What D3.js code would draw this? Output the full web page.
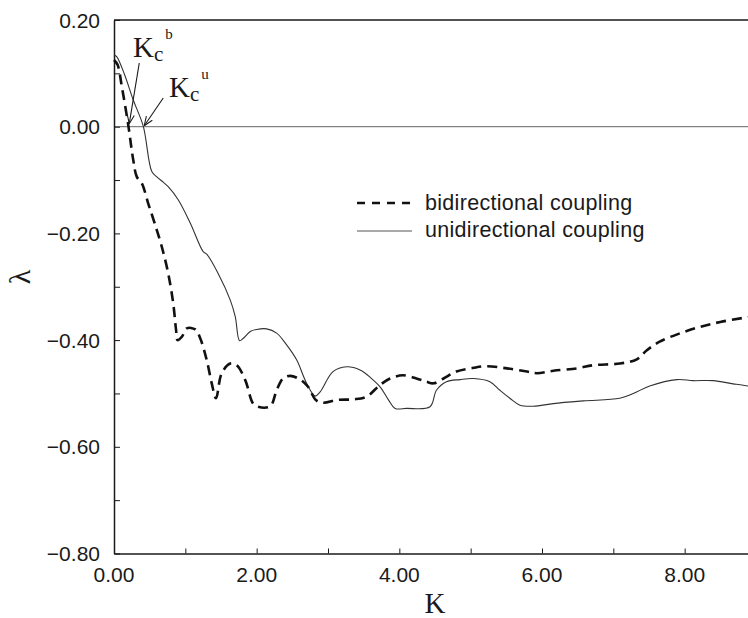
<!DOCTYPE html>
<html>
<head>
<meta charset="utf-8">
<script src="https://cdn.jsdelivr.net/npm/d3@7"></script>
<style>
    body { margin: 0; background: #fff; }
    svg { display: block; }
    .tick text { font-family: "Liberation Sans", Arial, sans-serif; font-size: 21px; fill: #1a1a1a; }
    .axis path, .axis line { stroke: #1a1a1a; }
</style>
</head>
<body>
<svg id="chart" width="748" height="618"></svg>
<script>
// values
var kBi = [0, 0.05, 0.11, 0.20, 0.27, 0.32, 0.39, 0.48, 0.57, 0.67, 0.76, 0.83, 0.87, 0.89, 0.95, 1.02,
    1.14, 1.21, 1.30, 1.37, 1.43, 1.51, 1.63, 1.72, 1.84, 1.95, 2.02, 2.19, 2.28, 2.37, 2.47, 2.61,
    2.72, 2.83, 2.93, 3.14, 3.36, 3.54, 3.73, 3.87, 4.05, 4.24, 4.38, 4.48, 4.62, 4.80, 5.04, 5.22,
    5.51, 5.79, 5.93, 6.16, 6.49, 6.72, 7.09, 7.33, 7.47, 7.65, 7.93, 8.22, 8.50, 8.89, 9.0];
var lamBi = [0.125, 0.116, 0.075, 0.003, -0.0625, -0.094, -0.106, -0.144, -0.181, -0.225, -0.275, -0.331, -0.381, -0.400, -0.394, -0.378,
    -0.380, -0.397, -0.4375, -0.481, -0.509, -0.462, -0.444, -0.447, -0.475, -0.519, -0.525, -0.524, -0.494, -0.472, -0.467, -0.474,
    -0.4875, -0.5125, -0.5175, -0.512, -0.511, -0.506, -0.484, -0.472, -0.466, -0.472, -0.478, -0.481, -0.472, -0.459, -0.452, -0.449,
    -0.453, -0.459, -0.462, -0.4575, -0.453, -0.447, -0.444, -0.436, -0.419, -0.403, -0.3875, -0.375, -0.366, -0.357, -0.355];

var kUni = [0, 0.04, 0.15, 0.27, 0.41, 0.53, 0.60, 0.69, 0.76, 0.90, 1.07, 1.25, 1.30, 1.46, 1.63, 1.70,
    1.76, 1.81, 1.91, 2.00, 2.14, 2.28, 2.42, 2.56, 2.70, 2.82, 2.89, 3.07, 3.26, 3.45, 3.61, 3.73,
    3.85, 3.94, 4.10, 4.43, 4.52, 4.66, 4.85, 5.04, 5.27, 5.41, 5.55, 5.69, 5.88, 6.16, 6.58, 7.09,
    7.28, 7.51, 7.89, 8.12, 8.40, 8.68, 8.89, 9.0];
var lamUni = [0.135, 0.131, 0.097, 0.05, 0.001, -0.084, -0.094, -0.104, -0.1125, -0.137, -0.181, -0.234, -0.239, -0.275, -0.325, -0.356,
    -0.401, -0.397, -0.384, -0.380, -0.379, -0.387, -0.409, -0.437, -0.481, -0.505, -0.497, -0.459, -0.450, -0.456, -0.472, -0.4875,
    -0.5125, -0.528, -0.528, -0.525, -0.494, -0.478, -0.474, -0.472, -0.478, -0.494, -0.509, -0.522, -0.524, -0.519, -0.514, -0.509,
    -0.500, -0.486, -0.474, -0.476, -0.476, -0.482, -0.486, -0.487];

var xTicks = [0, 1, 2, 3, 4, 5, 6, 7, 8, 9];
var xLabels = [0, 2, 4, 6, 8];
var yTicks = [0.2, 0.1, 0, -0.1, -0.2, -0.3, -0.4, -0.5, -0.6, -0.7, -0.8];
var yLabels = [0.2, 0, -0.2, -0.4, -0.6, -0.8];

var seriesNames = ['bidirectional coupling', 'unidirectional coupling'];
var kcB = 0.20, kcU = 0.41;

var margin = {top: 20, left: 114, bottom: 64.5, right: -8};
var width = 748, height = 618;

var svg = d3.select('svg#chart');

var x = d3.scaleLinear().domain([0, 9]).range([margin.left, width - margin.right]);
var y = d3.scaleLinear().domain([-0.8, 0.2]).range([height - margin.bottom, margin.top]);

var fmt = d3.format('.2f');

/**
 * zip two arrays into points
 */
function pts(ks, ls) {
    return ks.map(function(k, i) { return [k, ls[i]]; });
}

var line = d3.line()
    .x(function(d) { return x(d[0]); })
    .y(function(d) { return y(d[1]); })
    .curve(d3.curveCatmullRom.alpha(0.5));

// zero line
svg.append('line')
    .attr('x1', x(0)).attr('x2', x(9))
    .attr('y1', y(0)).attr('y2', y(0))
    .attr('stroke', '#666').attr('stroke-width', 1);

// frame top / right
svg.append('path')
    .attr('d', 'M' + x(0) + ',' + y(0.2) + 'H' + x(9) + 'V' + y(-0.8))
    .attr('fill', 'none').attr('stroke', '#1a1a1a').attr('stroke-width', 1.5);

// left axis, ticks inward
svg.append('g')
    .attr('class', 'axis')
    .attr('transform', 'translate(' + x(0) + ',0)')
    .call(d3.axisLeft(y).tickValues(yTicks).tickSizeInner(-6).tickSizeOuter(0).tickPadding(0).tickFormat(''))
    .call(function(g) {
        g.select('.domain').attr('stroke-width', 1.5);
        g.selectAll('.tick line').attr('stroke-width', 1);
    });

svg.append('g')
    .selectAll('text')
    .data(yLabels)
    .enter().append('text')
        .attr('class', 'tick')
        .attr('x', 100)
        .attr('y', function(d) { return y(d) + 7.5; })
        .attr('text-anchor', 'end')
        .style('font-family', '"Liberation Sans", Arial, sans-serif')
        .style('font-size', '21px')
        .style('fill', '#1a1a1a')
        .text(function(d) { return fmt(d); });

// bottom axis, ticks inward
svg.append('g')
    .attr('class', 'axis')
    .attr('transform', 'translate(0,' + y(-0.8) + ')')
    .call(d3.axisBottom(x).tickValues(xTicks).tickSizeInner(-5).tickSizeOuter(0).tickFormat(''))
    .call(function(g) {
        g.select('.domain').attr('stroke-width', 1.5);
        g.selectAll('.tick line').attr('stroke-width', 1);
    });

svg.append('g')
    .selectAll('text')
    .data(xLabels)
    .enter().append('text')
        .attr('x', function(d) { return x(d); })
        .attr('y', 582)
        .attr('text-anchor', 'middle')
        .style('font-family', '"Liberation Sans", Arial, sans-serif')
        .style('font-size', '21px')
        .style('fill', '#1a1a1a')
        .text(function(d) { return fmt(d); });

// axis titles
svg.append('text')
    .attr('x', x(4.5)).attr('y', 613)
    .attr('text-anchor', 'middle')
    .style('font-family', '"Liberation Serif", "Times New Roman", serif')
    .style('font-size', '29px')
    .style('fill', '#1a1a1a')
    .text('K');

svg.append('text')
    .attr('transform', 'translate(30,277) rotate(-90)')
    .attr('text-anchor', 'middle')
    .style('font-family', '"Liberation Serif", "Times New Roman", serif')
    .style('font-size', '30px')
    .style('fill', '#1a1a1a')
    .text('λ');

// curves
svg.append('path')
    .datum(pts(kUni, lamUni))
    .attr('d', line)
    .attr('fill', 'none')
    .attr('stroke', '#333')
    .attr('stroke-width', 1.1);

svg.append('path')
    .datum(pts(kBi, lamBi))
    .attr('d', line)
    .attr('fill', 'none')
    .attr('stroke', '#111')
    .attr('stroke-width', 2.6)
    .attr('stroke-dasharray', '10,6');

// legend
var legend = svg.append('g');
legend.append('line')
    .attr('x1', 357).attr('x2', 412).attr('y1', 203).attr('y2', 203)
    .attr('stroke', '#111').attr('stroke-width', 2.6).attr('stroke-dasharray', '8,7');
legend.append('line')
    .attr('x1', 357).attr('x2', 412).attr('y1', 231).attr('y2', 231)
    .attr('stroke', '#555').attr('stroke-width', 1.1);
legend.selectAll('text')
    .data(seriesNames)
    .enter().append('text')
        .attr('x', 425)
        .attr('y', function(d, i) { return 209.5 + i * 27.5; })
        .style('font-family', '"Liberation Sans", Arial, sans-serif')
        .style('font-size', '21.5px')
        .style('letter-spacing', '0.3px')
        .style('fill', '#1a1a1a')
        .text(function(d) { return d; });

// Kc annotations
svg.append('defs').append('marker')
    .attr('id', 'arrow')
    .attr('viewBox', '0 0 10 10')
    .attr('refX', 10).attr('refY', 5)
    .attr('markerWidth', 9).attr('markerHeight', 9)
    .attr('orient', 'auto')
    .attr('markerUnits', 'userSpaceOnUse')
    .append('path')
        .attr('d', 'M0,1L10,5L0,9')
        .attr('fill', 'none').attr('stroke', '#1a1a1a').attr('stroke-width', 1.2);

svg.append('line')
    .attr('x1', x(kcB) + 11).attr('y1', 63)
    .attr('x2', x(kcB) + 1).attr('y2', y(0) - 3)
    .attr('stroke', '#1a1a1a').attr('stroke-width', 1.1)
    .attr('marker-end', 'url(#arrow)');

svg.append('line')
    .attr('x1', x(kcU) + 20).attr('y1', 98)
    .attr('x2', x(kcU) + 1).attr('y2', y(0) - 1)
    .attr('stroke', '#1a1a1a').attr('stroke-width', 1.1)
    .attr('marker-end', 'url(#arrow)');

/**
 * K with subscript c and a superscript letter
 */
function kLabel(x0, base, sup) {
    var t = svg.append('text')
        .attr('x', x0).attr('y', base)
        .style('font-family', '"Liberation Serif", "Times New Roman", serif')
        .style('fill', '#1a1a1a');
    t.append('tspan').style('font-size', '29px').text('K');
    t.append('tspan').attr('dy', 4).style('font-size', '21px').text('c');
    t.append('tspan').attr('dx', 2).attr('dy', -22).style('font-size', '15px').text(sup);
}

kLabel(133, 57, 'b');
kLabel(169, 97, 'u');
</script>
</body>
</html>
